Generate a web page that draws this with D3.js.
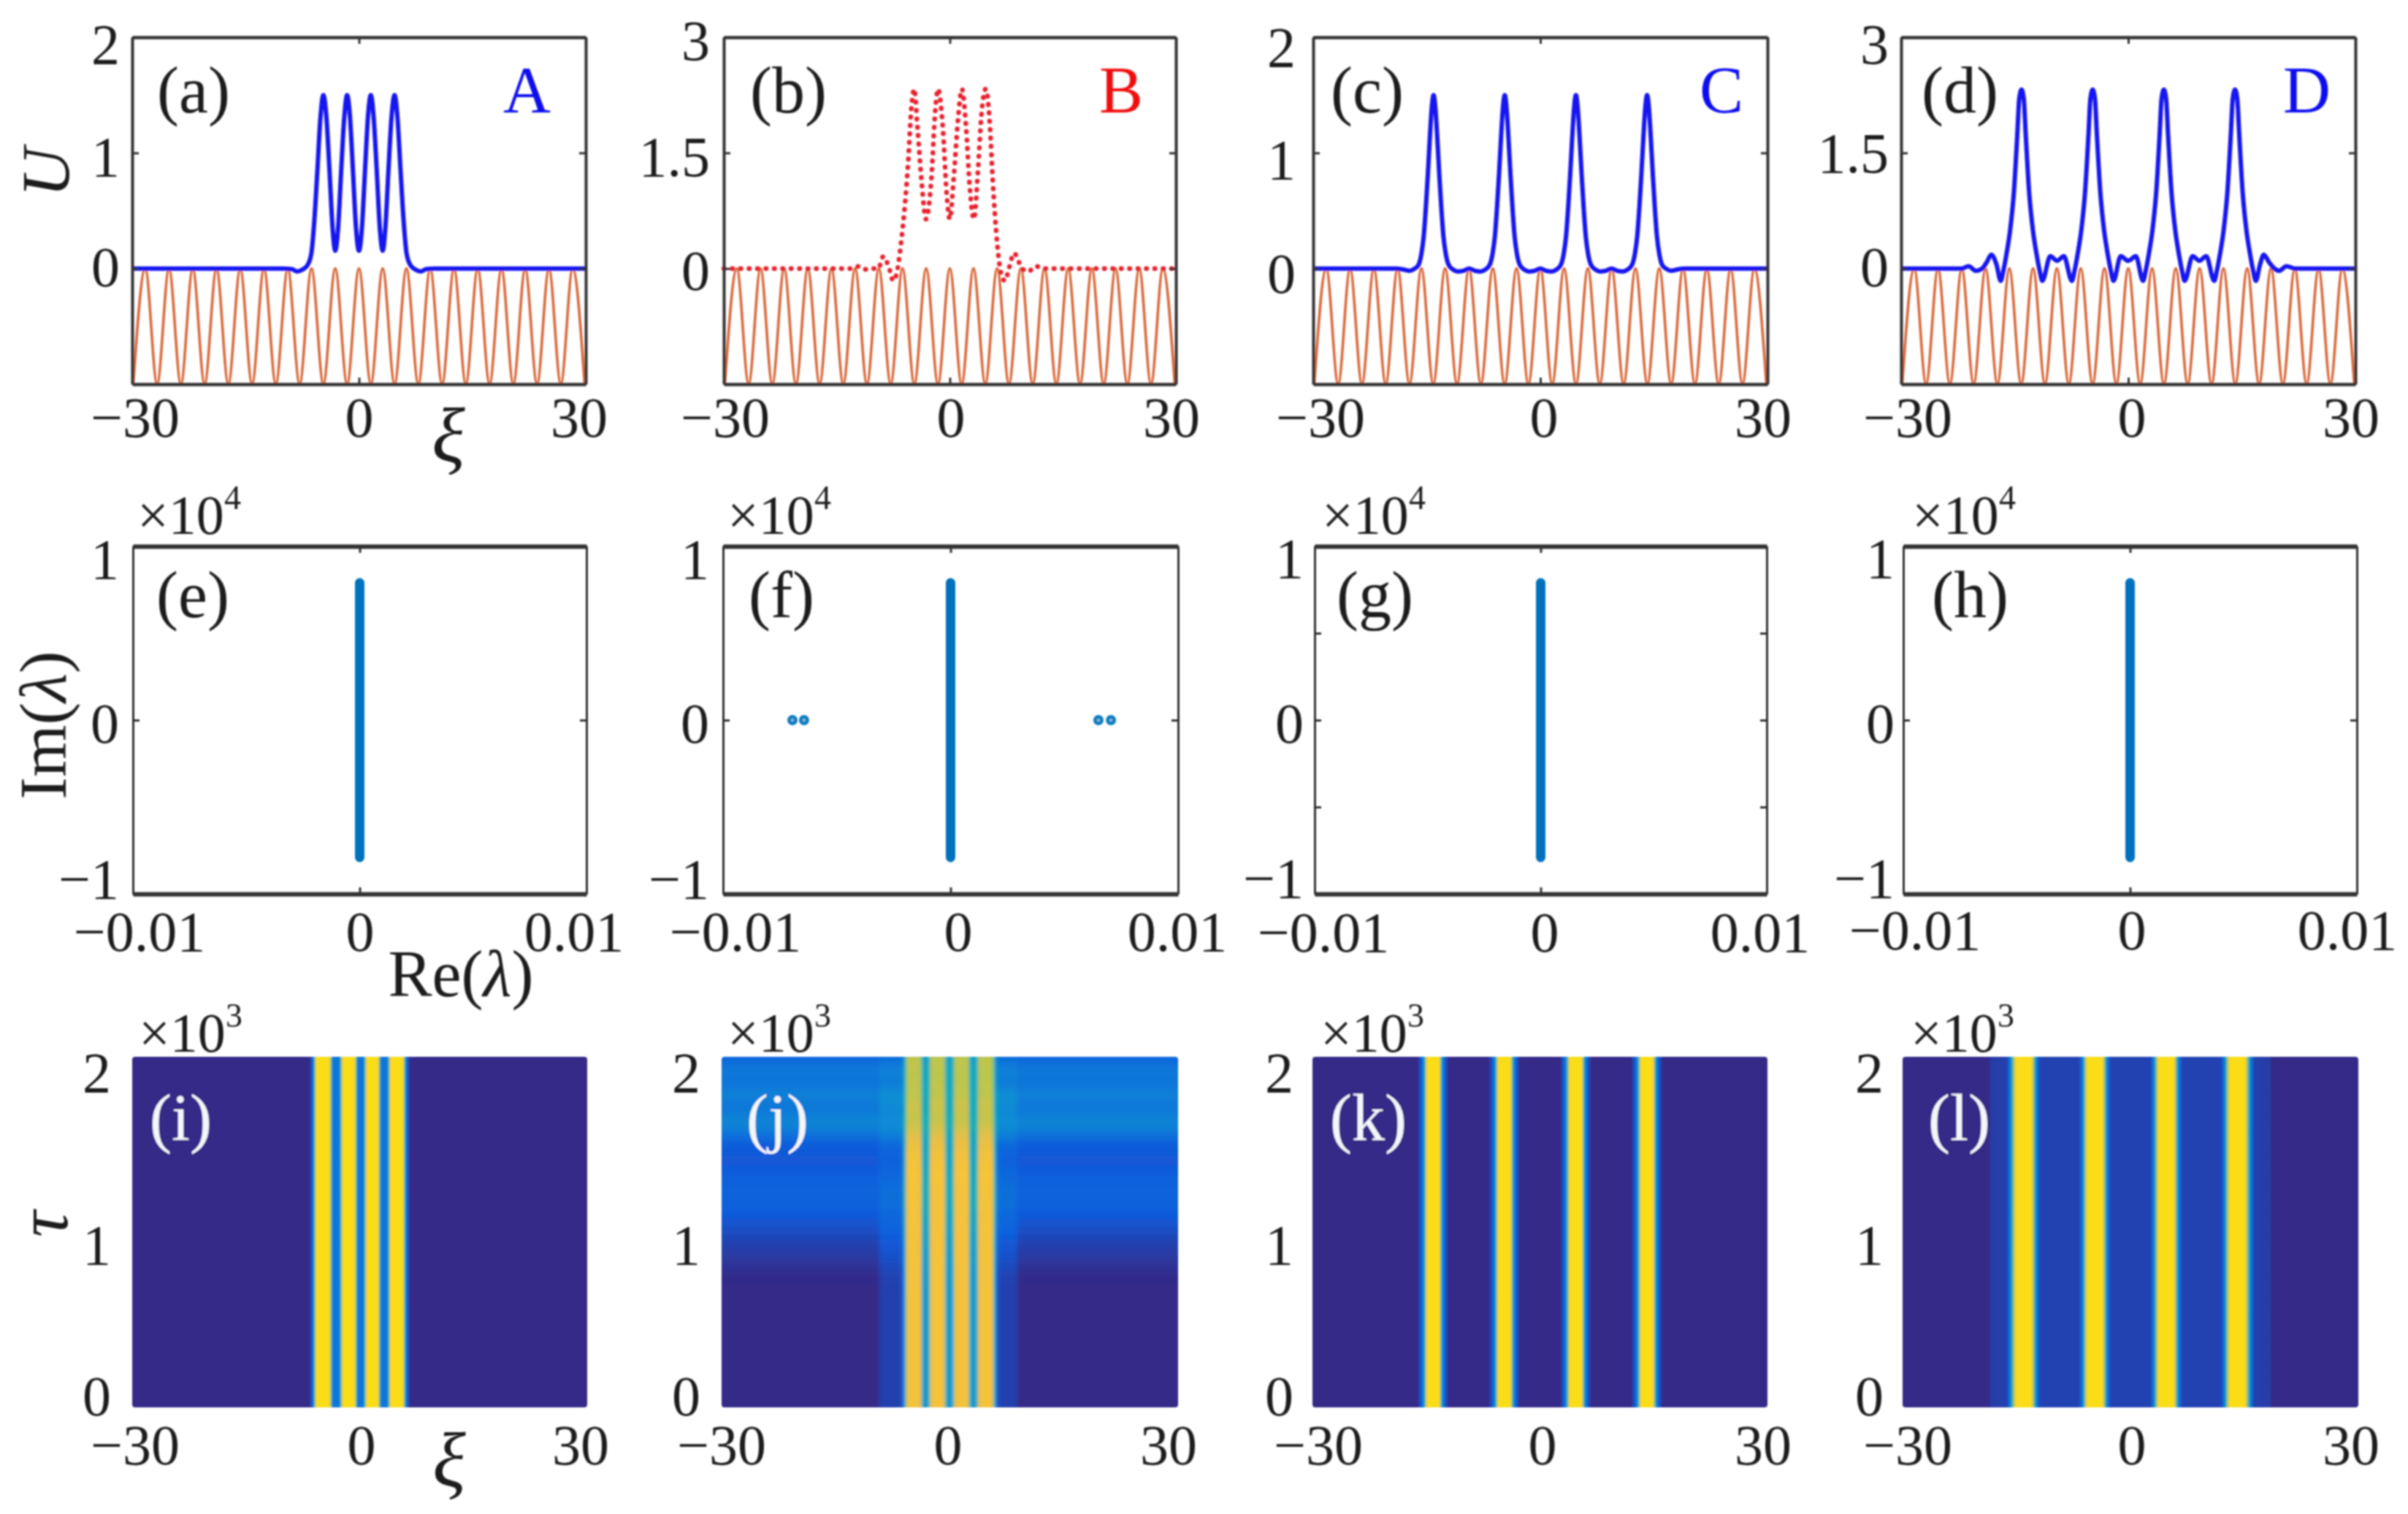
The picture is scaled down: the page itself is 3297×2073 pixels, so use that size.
<!DOCTYPE html>
<html>
<head>
<meta charset="utf-8">
<script src="https://cdnjs.cloudflare.com/ajax/libs/d3/7.8.5/d3.min.js"></script>
<style>
  html, body { margin: 0; background: #fff; }
  text { font-family: "Liberation Serif", "Times New Roman", serif; fill: #1c1c1c; }
</style>
</head>
<body>
<svg id="chart" width="3297" height="2073"></svg>
<script>
// lattice extrema (top row): troughs and crests alternate
var latticeXi = [-29.85, -28.27, -26.7, -25.13, -23.56, -21.99, -20.42, -18.85, -17.28, -15.71,
  -14.14, -12.57, -11.0, -9.42, -7.85, -6.28, -4.71, -3.14, -1.57, 0,
  1.57, 3.14, 4.71, 6.28, 7.85, 9.42, 11.0, 12.57, 14.14, 15.71,
  17.28, 18.85, 20.42, 21.99, 23.56, 25.13, 26.7, 28.27, 29.85]
var latticeLevel = [-1, 0, -1, 0, -1, 0, -1, 0, -1, 0, -1, 0, -1, 0, -1, 0, -1, 0, -1, 0,
  -1, 0, -1, 0, -1, 0, -1, 0, -1, 0, -1, 0, -1, 0, -1, 0, -1, 0, -1]

// soliton profiles U(xi)
var xiA = [-30, -10, -8.9, -8.2, -7.5, -6.8, -6.3, -5.9, -5.5, -5.1, -4.71, -4.3, -3.9, -3.5, -3.14,
  -2.75, -2.35, -1.95, -1.57, -1.2, -0.8, -0.4, 0, 0.4, 0.8, 1.2, 1.57, 1.95, 2.35, 2.75, 3.14,
  3.5, 3.9, 4.3, 4.71, 5.1, 5.5, 5.9, 6.3, 6.8, 7.5, 8.2, 8.9, 10, 30]
var uA = [0, 0, -0.005, -0.025, -0.01, 0.03, 0.13, 0.42, 0.85, 1.3, 1.5, 1.3, 0.85, 0.36, 0.154,
  0.36, 0.85, 1.3, 1.5, 1.32, 0.85, 0.36, 0.154, 0.36, 0.85, 1.32, 1.5, 1.3, 0.85, 0.36, 0.154,
  0.36, 0.85, 1.3, 1.5, 1.3, 0.85, 0.42, 0.13, 0.03, -0.01, -0.025, -0.005, 0, 0]

var xiB = [-30, -13, -12, -11.2, -10, -9.5, -8.83, -8.1, -7.5, -7.05, -6.5, -5.94, -5.55, -5.1, -4.72,
  -4.3, -3.72, -3.17, -2.44, -1.94, -1.56, -0.94, -0.39, 0, 0.5, 1.1, 1.6, 2.15, 2.65, 3.2,
  3.75, 4.2, 4.77, 5.33, 5.7, 6.3, 6.8, 7.3, 7.9, 8.5, 9.6, 10.4, 11.4, 12.4, 30]
var uB = [0, 0, 0.03, -0.01, 0, 0, 0.157, 0.02, -0.16, -0.06, 0.31, 0.85, 1.35, 2.09, 2.33,
  1.84, 1.1, 0.64, 1.18, 2.04, 2.33, 1.84, 0.93, 0.64, 1.15, 1.95, 2.33, 1.84, 1.05, 0.64,
  1.3, 2.0, 2.33, 1.84, 1.14, 0.31, -0.06, -0.16, 0.02, 0.2, 0, -0.04, 0.03, 0, 0]

var xiC = [-30, -19, -18, -17.3, -16.7, -16.1, -15.7, -15.4, -15.1, -14.85, -14.6, -14.35, -14.1,
  -13.85, -13.6, -13.35, -13.1, -12.8, -12.5, -12.1, -11.5, -10.9, -10.2, -9.4, -8.6, -7.9, -7.3,
  -6.7, -6.3, -6.0, -5.7, -5.45, -5.2, -4.95, -4.7, -4.45, -4.2, -3.95, -3.7, -3.4, -3.1, -2.7,
  -2.1, -1.5, -0.8, 0, 0.8, 1.5, 2.1, 2.7, 3.1, 3.4, 3.7, 3.95, 4.2, 4.45, 4.7, 4.95, 5.2, 5.45,
  5.7, 6.0, 6.3, 6.7, 7.3, 7.9, 8.6, 9.4, 10.2, 10.9, 11.5, 12.1, 12.5, 12.8, 13.1, 13.35, 13.6,
  13.85, 14.1, 14.35, 14.6, 14.85, 15.1, 15.4, 15.7, 16.1, 16.7, 17.3, 18, 19, 30]
var uC = [0, 0, -0.01, -0.02, -0.005, 0.03, 0.13, 0.28, 0.55, 0.82, 1.12, 1.38, 1.5,
  1.38, 1.12, 0.82, 0.55, 0.28, 0.13, 0.03, -0.01, -0.025, -0.02, 0, -0.02, -0.025, -0.01,
  0.03, 0.13, 0.28, 0.55, 0.82, 1.12, 1.38, 1.5, 1.38, 1.12, 0.82, 0.55, 0.28, 0.13, 0.03,
  -0.01, -0.025, -0.02, 0, -0.02, -0.025, -0.01, 0.03, 0.13, 0.28, 0.55, 0.82, 1.12, 1.38, 1.5, 1.38, 1.12, 0.82,
  0.55, 0.28, 0.13, 0.03, -0.01, -0.025, -0.02, 0, -0.02, -0.025, -0.01, 0.03, 0.13, 0.28, 0.55, 0.82, 1.12,
  1.38, 1.5, 1.38, 1.12, 0.82, 0.55, 0.28, 0.13, 0.03, -0.005, -0.02, -0.01, 0, 0]

var xiD = [-30, -22, -21.1, -20.1, -19.3, -18.7, -18.1, -17.4,
  -16.85, -16.5, -16.1, -15.6, -15.1, -14.65, -14.4, -14.1, -13.8, -13.55, -13.1, -12.6, -12.1, -11.7, -11.35,
  -10.3, -9.4, -8.5,
  -7.45, -7.1, -6.7, -6.2, -5.7, -5.25, -5.0, -4.7, -4.4, -4.15, -3.7, -3.2, -2.7, -2.3, -1.95,
  -1.0, 0, 1.0,
  1.95, 2.3, 2.7, 3.2, 3.7, 4.15, 4.4, 4.7, 5.0, 5.25, 5.7, 6.2, 6.7, 7.1, 7.45,
  8.5, 9.4, 10.3,
  11.35, 11.7, 12.1, 12.6, 13.1, 13.55, 13.8, 14.1, 14.4, 14.65, 15.1, 15.6, 16.1, 16.5, 16.85,
  17.4, 17.9, 18.6, 19.3, 19.9, 20.9, 22, 30]
var uD = [0, 0, 0.03, -0.03, 0, 0.08, 0.18, 0.05,
  -0.16, -0.03, 0.18, 0.5, 1.0, 1.75, 2.2, 2.32, 2.2, 1.75, 1.0, 0.5, 0.18, -0.03, -0.16,
  0.16, 0.1, 0.16,
  -0.16, -0.03, 0.18, 0.5, 1.0, 1.75, 2.2, 2.32, 2.2, 1.75, 1.0, 0.5, 0.18, -0.03, -0.16,
  0.16, 0.1, 0.16,
  -0.16, -0.03, 0.18, 0.5, 1.0, 1.75, 2.2, 2.32, 2.2, 1.75, 1.0, 0.5, 0.18, -0.03, -0.16,
  0.16, 0.1, 0.16,
  -0.16, -0.03, 0.18, 0.5, 1.0, 1.75, 2.2, 2.32, 2.2, 1.75, 1.0, 0.5, 0.18, -0.03, -0.16,
  0.05, 0.18, 0.08, 0, -0.03, 0.03, 0, 0]

// spectra: the imaginary axis band and the unstable pairs of panel (f)
var imBand = [-0.79, 0.79]
var reUnstable = [-0.00695, -0.00644, 0.0065, 0.00705]

// heat map columns, as a 0..1 position on the colour map
var heatXiI = [-30, -6.6, -6.1, -5.7, -4.0, -3.6, -2.65, -2.2, -0.7, -0.3, 0.55, 0.95, 2.4, 2.75, 3.7, 4.1, 5.65, 6.1, 6.6, 30]
var heatI = [0, 0, 0.2, 0.97, 0.97, 0.2, 0.2, 0.97, 0.97, 0.2, 0.2, 0.97, 0.97, 0.2, 0.2, 0.97, 0.97, 0.2, 0, 0]
var heatXiK = [-30, -16.1, -15.6, -15.2, -14.9, -13.3, -13.0, -12.6, -12.1, -6.7, -6.2, -5.8, -5.5, -3.9, -3.6, -3.2, -2.7,
  2.7, 3.2, 3.6, 3.9, 5.5, 5.8, 6.2, 6.7, 12.1, 12.6, 13.0, 13.3, 14.9, 15.2, 15.6, 16.1, 30]
var heatK = [0, 0, 0.14, 0.36, 0.97, 0.97, 0.36, 0.14, 0, 0, 0.14, 0.36, 0.97, 0.97, 0.36, 0.14, 0,
  0, 0.14, 0.36, 0.97, 0.97, 0.36, 0.14, 0, 0, 0.14, 0.36, 0.97, 0.97, 0.36, 0.14, 0, 0]
var heatXiL = [-30, -18.7, -18.3, -16.2, -15.7, -15.05, -13.05, -12.5, -12.0, -6.7, -6.2, -5.7, -3.7, -3.2, -2.7,
  2.7, 3.2, 3.7, 5.7, 6.2, 6.7, 12.0, 12.5, 13.05, 15.05, 15.7, 16.2, 18.3, 18.7, 30]
var heatL = [0, 0, 0.04, 0.05, 0.3, 0.97, 0.97, 0.3, 0.055, 0.055, 0.3, 0.97, 0.97, 0.3, 0.055,
  0.055, 0.3, 0.97, 0.97, 0.3, 0.055, 0.055, 0.3, 0.97, 0.97, 0.3, 0.05, 0.04, 0, 0]

// panel (j) changes with tau: three row series and two column series
var jTauEdges = [0, 0.4, 0.7, 0.78, 0.84, 0.9, 0.96, 1.02, 1.08, 1.14, 1.2, 1.26, 1.32, 1.38, 1.44, 1.5, 1.54,
  1.58, 1.62, 1.66, 1.7, 1.74, 1.78, 1.82, 1.86, 1.9, 1.94, 1.98, 2]
var jBack = [0, 0, 0.005, 0.02, 0.035, 0.05, 0.07, 0.09, 0.11, 0.13, 0.14, 0.125, 0.11, 0.10, 0.105, 0.13,
  0.18, 0.24, 0.25, 0.22, 0.19, 0.22, 0.24, 0.18, 0.2, 0.22, 0.17, 0.14]
var jStripe = [0.85, 0.85, 0.85, 0.85, 0.85, 0.85, 0.85, 0.85, 0.85, 0.85, 0.85, 0.86, 0.86, 0.85, 0.83, 0.8,
  0.77, 0.74, 0.72, 0.72, 0.74, 0.72, 0.7, 0.72, 0.7, 0.7, 0.72, 0.7]
var jLobe = [0.05, 0.05, 0.05, 0.05, 0.05, 0.05, 0.05, 0.05, 0.04, 0.04, 0.03, 0.03, 0.03, 0.03, 0.03, 0.04,
  0.05, 0.03, 0.02, 0.04, 0.07, 0.06, 0.04, 0.02, 0.02, 0.03, 0.02, 0.02]
var jXi = [-30, -9.5, -9.0, -6.5, -6.1, -5.85, -5.6, -3.85, -3.6, -2.75, -2.5, -0.76, -0.5, 0.4, 0.67, 2.4, 2.65,
  3.55, 3.8, 5.56, 5.85, 6.1, 6.5, 8.6, 9.1, 30]
var jStripeShare = [0, 0, 0, 0, 0.15, 0.5, 1, 1, 0.38, 0.38, 1, 1, 0.38, 0.38, 1, 1, 0.38, 0.38, 1, 1, 0.5, 0.15, 0, 0, 0, 0]
var jLobeShare = [0, 0, 1, 1, 0.5, 0, 0, 0, 0, 0, 0, 0, 0, 0, 0, 0, 0, 0, 0, 0, 0, 0.5, 1, 1, 0, 0]

// parula, nudged toward the saturated look of the reference
var parulaAt = [0, 0.11, 0.22, 0.33, 0.44, 0.56, 0.67, 0.78, 0.89, 1]
var parulaHex = ["#352a87", "#0f5cdd", "#127dd8", "#079ccf", "#15b1b4", "#59bd8c", "#a9c84e", "#e6bf48", "#fcc432", "#f9e60e"]
var parula = d3.scaleLinear().domain(parulaAt).range(parulaHex).clamp(true)

var curvePanels = [
  {name: "(a)", tag: "A", tagColor: "#1010f0", x0: 181, x1: 802, yMax: 2, yMin: -1, ticks: [0, 1, 2], xi: xiA, u: uA, dotted: false,
    depth: 1, labelX: 215, tagX: 689, yRight: 164, yBase: [392, 241, 87], xCenter: [185, 492, 793]},
  {name: "(b)", tag: "B", tagColor: "#f01010", x0: 991, x1: 1610, yMax: 3, yMin: -1.5, ticks: [0, 1.5, 3], xi: xiB, u: uB, dotted: true,
    depth: 1.5, labelX: 1027, tagX: 1505, yRight: 972, yBase: [397, 241, 82], xCenter: [993, 1302, 1604]},
  {name: "(c)", tag: "C", tagColor: "#1010f0", x0: 1798, x1: 2420, yMax: 2, yMin: -1, ticks: [0, 1, 2], xi: xiC, u: uC, dotted: false,
    depth: 1, labelX: 1822, tagX: 2327, yRight: 1774, yBase: [401, 245, 91], xCenter: [1808, 2114, 2414]},
  {name: "(d)", tag: "D", tagColor: "#1010f0", x0: 2603, x1: 3225, yMax: 3, yMin: -1.5, ticks: [0, 1.5, 3], xi: xiD, u: uD, dotted: false,
    depth: 1.5, labelX: 2631, tagX: 3126, yRight: 2586, yBase: [392, 236, 87], xCenter: [2612, 2919, 3219]}
]

var spectrumPanels = [
  {name: "(e)", x0: 182, x1: 803, yTicks: [-1, 0, 1], pairs: [], labelX: 214, yRight: 163, yBase: [1230, 1017, 792], xCenter: [191, 493, 786], xBase: 1302, expX: 188},
  {name: "(f)", x0: 990, x1: 1613, yTicks: [-1, 0, 1], pairs: reUnstable, labelX: 1025, yRight: 971, yBase: [1230, 1017, 792], xCenter: [1007, 1312, 1612], xBase: 1302, expX: 996},
  {name: "(g)", x0: 1800, x1: 2419, yTicks: [-1, -0.5, 0, 0.5, 1], pairs: [], labelX: 1830, yRight: 1785, yBase: [1229, 1017, 791], xCenter: [1812, 2115, 2410], xBase: 1303, expX: 1810},
  {name: "(h)", x0: 2606, x1: 3227, yTicks: [-1, 0, 1], pairs: [], labelX: 2645, yRight: 2594, yBase: [1229, 1017, 791], xCenter: [2622, 2919, 3214], xBase: 1300, expX: 2618}
]

var heatPanels = [
  {name: "(i)", x0: 181, x1: 804, labelX: 205, yRight: 152, xCenter: [185, 495, 795], expX: 190, xi: heatXiI, v: heatI},
  {name: "(j)", x0: 988, x1: 1613, labelX: 1022, yRight: 959, xCenter: [988, 1298, 1600], expX: 996, xi: jXi, v: null},
  {name: "(k)", x0: 1797, x1: 2420, labelX: 1821, yRight: 1771, xCenter: [1805, 2112, 2414], expX: 1808, xi: heatXiK, v: heatK},
  {name: "(l)", x0: 2605, x1: 3229, labelX: 2640, yRight: 2579, xCenter: [2612, 2919, 3219], expX: 2616, xi: heatXiL, v: heatL}
]

var svg = d3.select("#chart")
var defs = svg.append("defs")
defs.append("filter").attr("id", "soft").attr("filterUnits", "userSpaceOnUse")
  .attr("x", 0).attr("y", 0).attr("width", 3297).attr("height", 2073)
  .append("feGaussianBlur").attr("stdDeviation", 0.8)
defs.append("filter").attr("id", "rowBlur")
  .append("feGaussianBlur").attr("stdDeviation", "2 7")
defs.append("filter").attr("id", "colBlur")
  .append("feGaussianBlur").attr("stdDeviation", "1 0")

var root = svg.append("g").attr("filter", "url(#soft)")
var tickFont = 78

function minusFormat(d) {
  return d < 0 ? "\u2212" + Math.abs(d) : String(d)
}

// box axes with inward ticks; labels are placed by hand like the figure's
function box(g, x, y, xTicks, yTicks, sideWidth, flatWidth) {
  var top = y.range()[1], bottom = y.range()[0], left = x.range()[0], right = x.range()[1]
  function style(a, w) {
    a.select(".domain").attr("stroke", "#333").attr("stroke-width", w)
    a.selectAll(".tick line").attr("stroke", "#333").attr("stroke-width", 3)
    a.selectAll(".tick text").remove()
  }
  g.append("g").attr("transform", "translate(0," + bottom + ")")
    .call(d3.axisBottom(x).tickValues(xTicks).tickSizeInner(-9).tickSizeOuter(0)).call(style, flatWidth)
  g.append("g").attr("transform", "translate(0," + top + ")")
    .call(d3.axisTop(x).tickValues(xTicks).tickSizeInner(-9).tickSizeOuter(0)).call(style, flatWidth)
  g.append("g").attr("transform", "translate(" + left + ",0)")
    .call(d3.axisLeft(y).tickValues(yTicks).tickSizeInner(-9).tickSizeOuter(0)).call(style, sideWidth)
  g.append("g").attr("transform", "translate(" + right + ",0)")
    .call(d3.axisRight(y).tickValues(yTicks).tickSizeInner(-9).tickSizeOuter(0)).call(style, sideWidth)
}

function tickLabels(g, xLabels, xCenter, xBase, yLabels, yRight, yBase) {
  g.selectAll(null).data(xLabels).enter().append("text")
    .attr("x", function(d, i) { return xCenter[i] })
    .attr("y", xBase)
    .attr("text-anchor", "middle")
    .attr("font-size", tickFont)
    .text(minusFormat)
  g.selectAll(null).data(yLabels).enter().append("text")
    .attr("x", yRight)
    .attr("y", function(d, i) { return yBase[i] })
    .attr("text-anchor", "end")
    .attr("font-size", tickFont)
    .text(minusFormat)
}

function panelLabel(g, s, x, y, color) {
  g.append("text").attr("x", x).attr("y", y).attr("font-size", 90)
    .style("fill", color || "#1c1c1c").text(s)
}

function exponent(g, x, y, power) {
  var t = g.append("text").attr("x", x).attr("y", y).attr("font-size", 76)
  t.append("tspan").text("\u00d710")
  t.append("tspan").attr("font-size", 46).attr("dy", -34).text(power)
}

// top row: lattice and soliton profile
curvePanels.forEach(function(p) {
  var g = root.append("g")
  var x = d3.scaleLinear().domain([-30, 30]).range([p.x0, p.x1])
  var y = d3.scaleLinear().domain([p.yMin, p.yMax]).range([526, 51])
  var line = d3.line().curve(d3.curveMonotoneX)

  g.append("path")
    .attr("d", line(latticeXi.map(function(v, i) { return [x(v), y(latticeLevel[i] * p.depth)] })))
    .attr("fill", "none").attr("stroke", "#d9683a").attr("stroke-width", 3.6)

  var profile = g.append("path")
    .attr("d", line(p.xi.map(function(v, i) { return [x(v), y(p.u[i])] })))
    .attr("fill", "none")
  if (p.dotted) {
    profile.attr("stroke", "#e8222e").attr("stroke-width", 6.5)
      .attr("stroke-linecap", "round").attr("stroke-dasharray", "0.5 11")
  } else {
    profile.attr("stroke", "#1212f0").attr("stroke-width", 6)
  }

  box(g, x, y, [-30, 0, 30], p.ticks, 4, 4.5)
  tickLabels(g, [-30, 0, 30], p.xCenter, 598, p.ticks, p.yRight, p.yBase)
  panelLabel(g, p.name, p.labelX, 154)
  panelLabel(g, p.tag, p.tagX, 154, p.tagColor)
})

// middle row: eigenvalue spectra
spectrumPanels.forEach(function(p) {
  var g = root.append("g")
  var x = d3.scaleLinear().domain([-0.01, 0.01]).range([p.x0, p.x1])
  var y = d3.scaleLinear().domain([-1, 1]).range([1224, 748])

  g.append("path")
    .attr("d", d3.line()(imBand.map(function(v) { return [x(0), y(v)] })))
    .attr("stroke", "#0072bd").attr("stroke-width", 13).attr("stroke-linecap", "round")

  g.selectAll("circle").data(p.pairs).enter().append("circle")
    .attr("cx", function(d) { return x(d) })
    .attr("cy", y(0))
    .attr("r", 4.5)
    .attr("fill", "#8fc4e6").attr("stroke", "#0f7cc0").attr("stroke-width", 5)

  box(g, x, y, [-0.01, 0, 0.01], p.yTicks, 3, 6)
  tickLabels(g, [-0.01, 0, 0.01], p.xCenter, p.xBase, [-1, 0, 1], p.yRight, p.yBase)
  panelLabel(g, p.name, p.labelX, 845)
  exponent(g, p.expX, 731, "4")
})

// bottom row: propagation heat maps, one gradient per tau row
function heatGradient(id, x, xi, values) {
  var grad = defs.append("linearGradient").attr("id", id)
    .attr("gradientUnits", "userSpaceOnUse")
    .attr("x1", x(-30)).attr("x2", x(30)).attr("y1", 0).attr("y2", 0)
  xi.forEach(function(v, i) {
    if (i == xi.length - 1) return
    var mixPos = d3.interpolateNumber(v, xi[i + 1]), mixVal = d3.interpolateNumber(values[i], values[i + 1])
    d3.range(6).forEach(function(k) {
      grad.append("stop")
        .attr("offset", (mixPos(k / 6) + 30) / 60)
        .attr("stop-color", parula(mixVal(k / 6)))
    })
  })
  grad.append("stop").attr("offset", 1).attr("stop-color", parula(values[values.length - 1]))
}

heatPanels.forEach(function(p, n) {
  var g = root.append("g")
  var x = d3.scaleLinear().domain([-30, 30]).range([p.x0, p.x1])
  var y = d3.scaleLinear().domain([0, 2]).range([1927, 1447])
  var clipId = "heatClip" + n

  defs.append("clipPath").attr("id", clipId).append("rect")
    .attr("x", p.x0).attr("y", y(2)).attr("width", p.x1 - p.x0).attr("height", y(0) - y(2)).attr("rx", 4)

  var field = g.append("g").attr("clip-path", "url(#" + clipId + ")")

  if (p.v) {
    heatGradient("heat" + n, x, p.xi, p.v)
    field.append("g").attr("filter", "url(#colBlur)").append("rect")
      .attr("x", p.x0 - 10).attr("y", y(2)).attr("width", p.x1 - p.x0 + 20).attr("height", y(0) - y(2))
      .attr("fill", "url(#heat" + n + ")")
  } else {
    var rows = field.append("g").attr("filter", "url(#rowBlur)")
    jBack.forEach(function(back, r) {
      var values = jStripeShare.map(function(s, c) {
        return back + (jStripe[r] - back) * s + jLobe[r] * jLobeShare[c]
      })
      heatGradient("heatRow" + r, x, p.xi, values)
      var yTop = y(jTauEdges[r + 1]) - (r == jBack.length - 1 ? 40 : 0)
      var yBottom = y(jTauEdges[r]) + (r == 0 ? 40 : 0.5)
      rows.append("rect")
        .attr("x", p.x0 - 10).attr("y", yTop).attr("width", p.x1 - p.x0 + 20).attr("height", yBottom - yTop)
        .attr("fill", "url(#heatRow" + r + ")")
    })
  }

  tickLabels(g, [-30, 0, 30], p.xCenter, 2005, [0, 1, 2], p.yRight, [1938, 1731, 1495])
  panelLabel(g, p.name, p.labelX, 1561, "#f4f6fb")
  exponent(g, p.expX, 1440, "3")
})

// axis titles
function title(x, y, size, rotate, parts) {
  var t = root.append("text").attr("font-size", size).attr("text-anchor", "middle")
    .attr("transform", "translate(" + x + "," + y + ")" + (rotate ? " rotate(-90)" : ""))
  parts.forEach(function(s) {
    t.append("tspan").attr("font-style", s.italic ? "italic" : "normal").text(s.text)
  })
}

title(94, 236, 94, true, [{text: "U", italic: true}])
title(90, 993, 92, true, [{text: "Im("}, {text: "\u03bb", italic: true}, {text: ")"}])
title(92, 1676, 100, true, [{text: "\u03c4", italic: true}])
title(631, 1364, 90, false, [{text: "Re("}, {text: "\u03bb", italic: true}, {text: ")"}])
title(614, 632, 106, false, [{text: "\u03be", italic: true}])
title(615, 2035, 106, false, [{text: "\u03be", italic: true}])
</script>
</body>
</html>
